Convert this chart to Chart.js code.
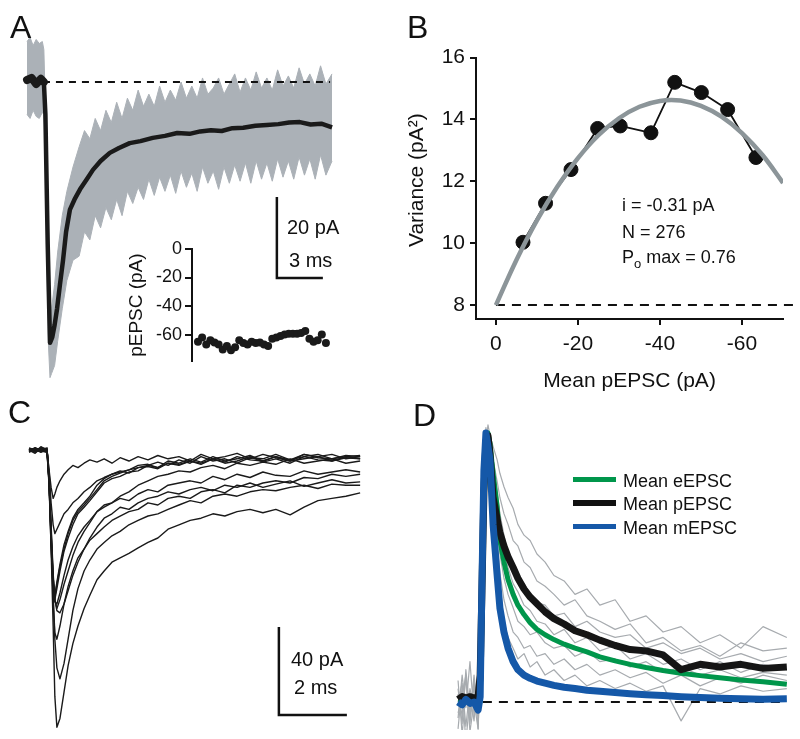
<!DOCTYPE html>
<html>
<head>
<meta charset="utf-8">
<script src="https://cdn.jsdelivr.net/npm/chart.js@4.4.0/dist/chart.umd.min.js"></script>
<style>
  html, body { margin: 0; padding: 0; background: #fff; }
  #fig { position: relative; width: 800px; height: 739px; overflow: hidden; background: #fff; }
  canvas { position: absolute; }
  .t { position: absolute; font-family: 'Liberation Sans', Arial, sans-serif; line-height: 1; white-space: nowrap; color: #111; }
  .panel { font-size: 32px; }
  .bar { font-size: 20px; }
  .note { font-size: 18px; }
  .sw { position: absolute; left: 573px; width: 43px; }
  sub { font-size: 13px; vertical-align: -5px; line-height: 0; }
</style>
</head>
<body>
<div id="fig">
  <canvas id="chartA" style="left:20px;top:30px" width="320" height="360"></canvas>
  <canvas id="chartInset" style="left:125px;top:235px" width="215" height="140"></canvas>
  <canvas id="chartB" style="left:400px;top:40px" width="400" height="360"></canvas>
  <canvas id="chartC" style="left:20px;top:440px" width="350" height="298"></canvas>
  <canvas id="chartD" style="left:450px;top:420px" width="345" height="310"></canvas>

  <div class="t panel" style="left:10px;top:11px">A</div>
  <div class="t panel" style="left:407px;top:11px">B</div>
  <div class="t panel" style="left:8px;top:396px">C</div>
  <div class="t panel" style="left:413px;top:399px">D</div>

  <div class="t bar" style="left:287px;top:217px">20 pA</div>
  <div class="t bar" style="left:289px;top:250px">3 ms</div>
  <div class="t bar" style="left:291px;top:649px">40 pA</div>
  <div class="t bar" style="left:294px;top:677px">2 ms</div>

  <div class="t note" style="left:622px;top:196px">i = -0.31 pA</div>
  <div class="t note" style="left:622px;top:223px">N = 276</div>
  <div class="t note" style="left:622px;top:248px">P<sub>o</sub> max = 0.76</div>

  <div class="sw" style="top:477px;height:5px;background:#00964b"></div>
  <div class="sw" style="top:500px;height:6px;background:#111"></div>
  <div class="sw" style="top:524px;height:5px;background:#1558a8"></div>
  <div class="t note" style="left:623px;top:472px">Mean eEPSC</div>
  <div class="t note" style="left:623px;top:495px">Mean pEPSC</div>
  <div class="t note" style="left:623px;top:519px">Mean mEPSC</div>
</div>

<script>
// ---------- Panel A : mean pEPSC (ms, pA) ----------
const aMeanT = [0, 0.3, 0.6, 0.9, 1.1, 1.2, 1.35, 1.5, 1.65, 1.8, 1.96, 2.15, 2.35, 2.55, 2.8, 3.1, 3.46, 3.9, 4.3, 4.8, 5.4, 6.0, 6.7, 7.4, 8.2, 9.0, 9.8, 10.6, 11.3, 12.0, 12.7, 13.4, 14.1, 14.9, 15.65, 16.4, 17.1, 17.8, 18.5, 19.2, 19.9];
const aMean = [0.5, 1, -0.5, 0.8, 0, -8, -40, -64.4, -63, -60, -56, -50, -44, -37, -31.5, -29, -26.5, -24, -21.7, -19.5, -17.5, -16.3, -15.1, -14.6, -13.8, -13.3, -12.6, -12.8, -12.2, -11.9, -12.1, -11.4, -11.3, -10.8, -10.6, -10.4, -10.0, -9.9, -10.5, -10.3, -11.2];

// grey band of individual sweeps (upper / lower envelope)
const aBandT = [0, 0.2, 0.4, 0.6, 0.8, 1.0, 1.1, 1.17, 1.3, 1.4, 1.5, 1.6, 1.8, 2.0, 2.3, 2.6, 3.0,
  3.4, 3.75, 4.1, 4.45, 4.8, 5.15, 5.5, 5.85, 6.2, 6.55, 6.9, 7.25, 7.6, 7.95, 8.3, 8.65, 9.0, 9.35, 9.7, 10.05,
  10.4, 10.75, 11.1, 11.45, 11.8, 12.15, 12.5, 12.85, 13.2, 13.55, 13.9, 14.25, 14.6, 14.95, 15.3, 15.65, 16.0,
  16.35, 16.7, 17.05, 17.4, 17.75, 18.1, 18.45, 18.8, 19.15, 19.5, 19.9];
const aBandHi = [10, 11, 9, 10.5, 9.5, 10, 8, -2, -25, -45, -57, -56, -50, -42, -33, -27, -21,
  -16, -12, -14, -9, -12, -7, -10, -5, -9, -4,
  -7, -2, -6, -3, -6, -1, -5, -2, -4.5, 0,
  -4, -1, -4, 1, -3, -1.5, 1, -3, -0.5, 2,
  -2.5, 1, -2, 2.5, -1.5, 1, -2, 3, -1, 1.5,
  -1.5, 3.5, -0.5, 2, -1, 4, -0.5, 2];
const aBandLo = [-8, -9, -7, -8.5, -9, -7.5, -8, -12, -45, -65, -73, -72, -70, -64, -56, -49, -44,
  -43, -37, -39, -33, -36, -31, -34, -29, -33, -27,
  -30, -26, -29, -24, -28, -23.5, -27, -23, -27.5, -22,
  -26, -22.5, -27, -21, -25, -22, -26.5, -21, -25, -20.5,
  -24.5, -20, -25, -19.5, -24, -20, -24.5, -19, -23.5, -19.5,
  -24, -18.5, -23, -19, -24, -18, -23, -19.5];

const aBaseT = [1.04, 19.77];
const aBarT = [16.3, 16.3, 19.3];     // 3 ms
const aBarY = [-28.4, -48.4, -48.4];  // 20 pA

// inset: pEPSC amplitude per sweep
const insetAmp = [-65, -62, -67, -64, -65.5, -67, -70.5, -68, -71, -69, -64, -66, -67, -65, -66, -65.5,
  -67, -68, -63, -62, -61, -60, -59.5, -59.5, -59.5, -59, -57.5, -63, -65, -64, -60, -66];
const insetTicks = [0, -20, -40, -60];

// ---------- Panel B : variance vs mean ----------
const bMean = [-6.6, -12.1, -18.3, -24.8, -30.3, -37.8, -43.6, -50.1, -56.5, -63.4];
const bVar = [10.03, 11.29, 12.38, 13.71, 13.79, 13.57, 15.2, 14.87, 14.32, 12.77];
const bFitX = [0, -5, -10, -15, -20, -25, -30, -35, -40, -45, -50, -55, -60, -65, -70];
const bFitY = [8.0, 9.46, 10.74, 11.83, 12.75, 13.49, 14.04, 14.41, 14.6, 14.61, 14.44, 14.09, 13.56, 12.85, 11.95];
const bBaseX = [0, -72.5];
const bTicksX = [0, -20, -40, -60];
const bTicksY = [8, 10, 12, 14, 16];

// ---------- Panel C : individual pEPSCs (ms, pA) ----------
const cT = [0, 0.18, 0.35, 0.53, 0.59, 0.65, 0.71, 0.76, 0.82, 0.91, 1.03, 1.15, 1.29, 1.44, 1.62, 1.79, 2.0, 2.21, 2.44, 2.68,
  2.94, 3.21, 3.5, 3.79, 4.09, 4.41, 4.74, 5.06, 5.41, 5.76, 6.12, 6.5, 6.88, 7.26, 7.68, 8.09, 8.5, 8.91, 9.32, 9.74];
const cSweeps = [
  [0.5, -1, 1.5, 0, -9, -17, -22, -20, -17, -14, -11, -9, -7, -8, -6, -4.5, -5.5, -4, -6, -3.5, -5, -3, -4.5, -2.5, -4, -3, -5, -2, -4, -3, -1.5, -4, -2, -3.5, -5, -2, -3, -2, -4, -3],
  [-1, 1, -0.5, 0, -10, -24, -34, -38, -36, -33, -29, -27, -24, -22, -19, -17, -14, -12.5, -11, -9.5, -10.5, -8, -7.5, -8.5, -6, -7, -5, -6.5, -4, -6, -5, -3, -5.5, -4, -6, -3, -4.5, -5, -3, -4],
  [0, -1.5, 1, 0.5, -14, -38, -58, -66, -60, -52, -43, -37, -31, -27, -24, -21, -16, -13, -11, -10, -9, -7, -6.5, -8, -5, -6, -4, -5.5, -3, -5, -4, -2.5, -5, -3, -4.5, -2, -3.5, -4, -2.5, -3],
  [1, 0, -1, 0, -15, -40, -60, -68, -63, -55, -46, -40, -34, -29, -26, -23, -19, -15, -13, -12, -10, -9.5, -7, -8, -6, -6.5, -5, -6, -4, -5.5, -3, -4.5, -5, -3, -5, -4, -3, -5, -3.5, -4],
  [-0.5, 1, 0, -1, -14, -38, -60, -69, -70, -65, -57, -50, -44, -39, -35, -32, -28, -26, -24, -21, -19, -16, -14, -12, -11, -9.5, -10, -8, -7, -8.5, -6, -7, -5.5, -6.5, -4, -6, -5, -4, -6, -5],
  [0, 0.5, -1, 0.5, -13, -36, -58, -68, -72, -68, -61, -55, -48, -42, -37, -33, -28, -25, -24, -22, -23, -20, -18, -19, -16, -15, -14, -15, -12, -13.5, -11, -12.5, -10, -11.5, -12, -9.5, -11, -10, -9, -10],
  [0.5, -0.5, 1, 0, -12, -34, -56, -68, -73, -74, -70, -64, -57, -51, -45, -40, -35, -31, -29, -26, -27, -24, -22, -21, -19, -20, -18, -17, -18.5, -16, -17, -15, -17, -15.5, -14, -16.5, -15, -13.5, -15, -14.5],
  [0, 1, -0.5, -1, -15, -42, -68, -83, -86, -80, -70, -62, -55, -49, -45, -41, -38, -35, -32, -30, -28, -27, -24, -25, -22, -21, -22, -19, -18, -19.5, -16, -17, -15, -14, -15, -12.5, -13, -11, -12, -11],
  [-1, 0, 1, 0, -14, -40, -66, -86, -99, -104, -97, -86, -73, -63, -55, -50, -45, -42, -39, -37, -34, -32, -30, -29, -27, -25, -23, -24, -21, -20, -21, -19, -18, -18.5, -17, -16, -17.5, -15.5, -16, -16],
  [0.5, -1, 0, 1, -14, -45, -80, -112, -126, -122, -110, -98, -88, -80, -72, -66, -59, -55, -51, -49, -47, -44.5, -42, -40, -36, -34, -32, -31, -29, -30, -28, -27, -28.5, -27, -29.5, -26, -23, -22, -21, -19.5],
  [0, -0.5, 0.5, -1, -16, -44, -63, -67, -61, -53, -45, -38, -32, -28, -25, -22, -18, -14, -12, -10.5, -9, -8, -7, -5.5, -7, -4.5, -6, -3, -5, -4, -6, -3.5, -4, -2, -4.5, -3, -2, -4, -3, -2.5]
];
const cBarT = [7.35, 7.35, 9.35];      // 2 ms
const cBarY = [-80.5, -120.5, -120.5]; // 40 pA

// ---------- Panel D : normalised means ----------
const dT = [0.09, 0.21, 0.32, 0.44, 0.56, 0.68, 0.74, 0.79, 0.85, 0.91, 0.97, 1.03, 1.12, 1.24, 1.32, 1.44, 1.56, 1.71, 1.85, 2.03,
  2.21, 2.41, 2.65, 2.91, 3.21, 3.53, 3.88, 4.26, 4.71, 5.15, 5.62, 6.12, 6.65, 7.21, 7.79, 8.41, 9.06, 9.76];
const dMini = [0.0, -0.01, 0.01, -0.005, 0.0, -0.03, 0.02, 0.42, 0.86, 1.0, 0.95, 0.9, 0.66, 0.47, 0.35, 0.26, 0.2, 0.15, 0.12, 0.1,
  0.088, 0.078, 0.07, 0.062, 0.055, 0.05, 0.044, 0.04, 0.035, 0.031, 0.027, 0.024, 0.02, 0.017, 0.014, 0.012, 0.01, 0.012];
const dEvoked = [0, 0, 0, 0, 0, 0, 0.0, 0.3, 0.72, 0.93, 1.0, 0.96, 0.85, 0.725, 0.6, 0.52, 0.455, 0.4, 0.36, 0.325,
  0.295, 0.27, 0.25, 0.232, 0.215, 0.2, 0.186, 0.168, 0.153, 0.14, 0.128, 0.117, 0.107, 0.098, 0.09, 0.082, 0.075, 0.066];
const dPaired = [0.01, 0.02, 0.015, 0.02, 0.015, 0.02, 0.1, 0.4, 0.78, 0.97, 0.99, 0.92, 0.76, 0.68, 0.63, 0.58, 0.54, 0.5, 0.46, 0.42,
  0.39, 0.365, 0.335, 0.31, 0.29, 0.265, 0.25, 0.23, 0.21, 0.195, 0.19, 0.175, 0.12, 0.14, 0.13, 0.14, 0.125, 0.13];
const dSweeps = [
  [0.05, -0.08, 0.12, -0.04, 0.08, -0.1, 0.1, 0.45, 0.8, 0.97, 1.03, 0.99, 0.95, 0.9, 0.85, 0.8, 0.76, 0.72, 0.66, 0.62, 0.6, 0.55, 0.52, 0.47, 0.45, 0.4, 0.42, 0.36, 0.38, 0.3, 0.32, 0.26, 0.28, 0.22, 0.25, 0.2, 0.28, 0.24],
  [-0.06, 0.1, -0.02, 0.15, -0.05, 0.04, 0.08, 0.4, 0.78, 0.96, 1.0, 0.96, 0.9, 0.82, 0.76, 0.7, 0.66, 0.6, 0.58, 0.52, 0.5, 0.45, 0.43, 0.4, 0.36, 0.38, 0.32, 0.3, 0.27, 0.29, 0.22, 0.24, 0.19, 0.21, 0.17, 0.22, 0.19, 0.2],
  [0.08, -0.12, 0.03, -0.06, 0.1, -0.04, 0.12, 0.5, 0.85, 0.99, 0.98, 0.93, 0.86, 0.72, 0.63, 0.56, 0.5, 0.44, 0.41, 0.36, 0.34, 0.3, 0.29, 0.25, 0.27, 0.22, 0.24, 0.19, 0.21, 0.16, 0.18, 0.14, 0.16, 0.12, 0.15, 0.11, 0.14, 0.12],
  [-0.1, 0.06, -0.15, 0.02, -0.07, 0.12, 0.05, 0.38, 0.82, 1.0, 0.97, 0.9, 0.8, 0.6, 0.48, 0.38, 0.32, 0.26, 0.24, 0.2, 0.21, 0.17, 0.18, 0.14, 0.16, 0.12, 0.14, 0.1, 0.12, 0.09, 0.11, 0.07, 0.1, 0.06, 0.09, 0.07, 0.1, 0.08],
  [0.03, -0.05, 0.09, -0.11, 0.0, -0.1, 0.15, 0.55, 0.9, 1.02, 0.95, 0.86, 0.75, 0.52, 0.4, 0.3, 0.24, 0.2, 0.16, 0.18, 0.13, 0.15, 0.1, 0.12, 0.08, 0.1, 0.06, 0.08, 0.05, 0.07, 0.04, 0.06, -0.07, 0.05, 0.03, 0.06, 0.04, 0.05],
  [0.0, 0.07, -0.09, 0.05, -0.02, 0.09, 0.06, 0.42, 0.8, 0.97, 1.0, 0.95, 0.88, 0.78, 0.7, 0.62, 0.55, 0.5, 0.46, 0.44, 0.4, 0.37, 0.36, 0.32, 0.33, 0.28, 0.3, 0.26, 0.24, 0.25, 0.2, 0.22, 0.18, 0.2, 0.16, 0.18, 0.15, 0.17],
  [-0.04, 0.02, 0.1, -0.08, 0.06, -0.06, 0.1, 0.47, 0.84, 0.98, 0.99, 0.92, 0.83, 0.66, 0.55, 0.46, 0.4, 0.35, 0.3, 0.28, 0.25, 0.26, 0.22, 0.2, 0.21, 0.17, 0.19, 0.15, 0.16, 0.13, 0.15, 0.11, 0.13, 0.1, 0.12, 0.09, 0.11, 0.1]
];
const dBaseT = [0.82, 9.76];

// ---------- helpers ----------
const FONT = "'Liberation Sans', Arial, sans-serif";
const INK = '#111';
Chart.defaults.font.family = FONT;
Chart.defaults.color = INK;

function pts(xs, ys) {
    return xs.map((x, i) => ({ x: x, y: ys[i] }));
}

function flat(xs, v) {
    return xs.map(x => ({ x: x, y: v }));
}

// traces get round joins so thick lines don't spike at sharp turns
function line(data, color, width, extra) {
    return Object.assign({
        data: data,
        borderColor: color,
        borderWidth: width,
        pointRadius: 0,
        tension: 0,
        fill: false,
        borderJoinStyle: 'round',
        borderCapStyle: 'butt'
    }, extra || {});
}

function scaleBar(data) {
    return line(data, INK, 2.5, { borderJoinStyle: 'miter' });
}

// charts without visible axes: canvas box == data box
function traceOptions(xmin, xmax, ymin, ymax) {
    return {
        responsive: false,
        animation: false,
        events: [],
        layout: { padding: 0 },
        plugins: { legend: { display: false }, tooltip: { enabled: false } },
        scales: {
            x: { type: 'linear', display: false, min: xmin, max: xmax },
            y: { type: 'linear', display: false, min: ymin, max: ymax }
        }
    };
}

// ---------- Panel A ----------
new Chart(document.getElementById('chartA'), {
    type: 'line',
    data: {
        datasets: [
            line(pts(aMeanT.slice(0, 5), aMean.slice(0, 5)), '#1a1a1a', 8, { borderCapStyle: 'round' }),
            line(pts(aMeanT, aMean), '#1a1a1a', 4.5),
            scaleBar(pts(aBarT, aBarY)),
            line(flat(aBaseT, 0), INK, 2, { borderDash: [7, 6] }),
            line(pts(aBandT, aBandHi), '#abb1b7', 1),
            line(pts(aBandT, aBandLo), '#abb1b7', 1, { fill: '-1', backgroundColor: '#abb1b7' })
        ]
    },
    options: traceOptions(-0.457, 20.418, -76.05, 12.84)
});

// inset
new Chart(document.getElementById('chartInset'), {
    type: 'line',
    data: {
        datasets: [{
            data: insetAmp.map((v, i) => ({ x: i + 1, y: v })),
            showLine: false,
            pointRadius: 4,
            pointBackgroundColor: '#1a1a1a',
            pointBorderColor: '#1a1a1a',
            pointBorderWidth: 0
        }]
    },
    options: {
        responsive: false,
        animation: false,
        events: [],
        layout: { padding: { top: 14, bottom: 8, right: 5, left: 0 } },
        plugins: { legend: { display: false }, tooltip: { enabled: false } },
        scales: {
            x: { type: 'linear', display: false, min: -0.45, max: 34.2 },
            y: {
                type: 'linear', min: -78.7, max: 0,
                afterBuildTicks: s => { s.ticks = insetTicks.map(v => ({ value: v })); },
                afterFit: s => { s.width = 67; },
                grid: { drawOnChartArea: false, tickLength: 7, color: INK, lineWidth: 2 },
                border: { display: true, color: INK, width: 2 },
                ticks: { color: INK, font: { size: 18 }, padding: 3, callback: v => String(v) },
                title: { display: true, text: 'pEPSC (pA)', color: INK, font: { size: 19 }, padding: { top: 0, bottom: 0 } }
            }
        }
    }
});

// ---------- Panel B ----------
new Chart(document.getElementById('chartB'), {
    type: 'line',
    data: {
        datasets: [
            line(pts(bFitX, bFitY), '#8c9599', 4.5, { tension: 0.4 }),
            line(pts(bMean, bVar), INK, 1.8, {
                pointRadius: 7, pointBackgroundColor: INK, pointBorderColor: INK, pointBorderWidth: 1
            }),
            line(flat(bBaseX, 8), INK, 2, { borderDash: [9, 7], clip: false })
        ]
    },
    options: {
        responsive: false,
        animation: false,
        events: [],
        layout: { padding: { top: 16, right: 17, left: 0, bottom: 0 } },
        plugins: { legend: { display: false }, tooltip: { enabled: false } },
        scales: {
            x: {
                type: 'linear', reverse: true, min: -70, max: 4.86,
                afterBuildTicks: s => { s.ticks = bTicksX.map(v => ({ value: v })); },
                afterFit: s => { s.height = 81; },
                grid: { drawOnChartArea: false, tickLength: 6, color: INK, lineWidth: 2 },
                border: { display: true, color: INK, width: 2 },
                ticks: { color: INK, font: { size: 21 }, padding: 7, maxRotation: 0, callback: v => String(v) },
                title: { display: true, text: 'Mean pEPSC (pA)', color: INK, font: { size: 21 }, padding: { top: 0, bottom: 6 } }
            },
            y: {
                type: 'linear', min: 7.55, max: 16,
                afterBuildTicks: s => { s.ticks = bTicksY.map(v => ({ value: v })); },
                afterFit: s => { s.width = 76; },
                grid: { drawOnChartArea: false, tickLength: 6, color: INK, lineWidth: 2 },
                border: { display: true, color: INK, width: 2 },
                ticks: { color: INK, font: { size: 21 }, padding: 5, callback: v => String(v) },
                title: { display: true, text: '\u2002 Variance (pA\u00b2)', color: INK, font: { size: 21 }, padding: { top: 5, bottom: 0 } }
            }
        }
    }
});

// ---------- Panel C ----------
const cSets = [scaleBar(pts(cBarT, cBarY))];
cSweeps.forEach(s => cSets.push(line(pts(cT, s), '#1a1a1a', 1.4)));
new Chart(document.getElementById('chartC'), {
    type: 'line',
    data: { datasets: cSets },
    options: traceOptions(-0.265, 10.03, -130.9, 4.55)
});

// ---------- Panel D ----------
const dSets = [
    line(pts(dT, dMini), '#1558a8', 7),
    line(pts(dT, dPaired), '#151515', 7),
    line(pts(dT, dEvoked), '#00964b', 5),
    line(flat(dBaseT, 0), INK, 2, { borderDash: [9, 7] })
];
dSweeps.forEach(s => dSets.push(line(pts(dT, s), '#a7abaf', 1.2)));
new Chart(document.getElementById('chartD'), {
    type: 'line',
    data: { datasets: dSets },
    options: traceOptions(-0.147, 10.0, -0.104, 1.048)
});
</script>
</body>
</html>
